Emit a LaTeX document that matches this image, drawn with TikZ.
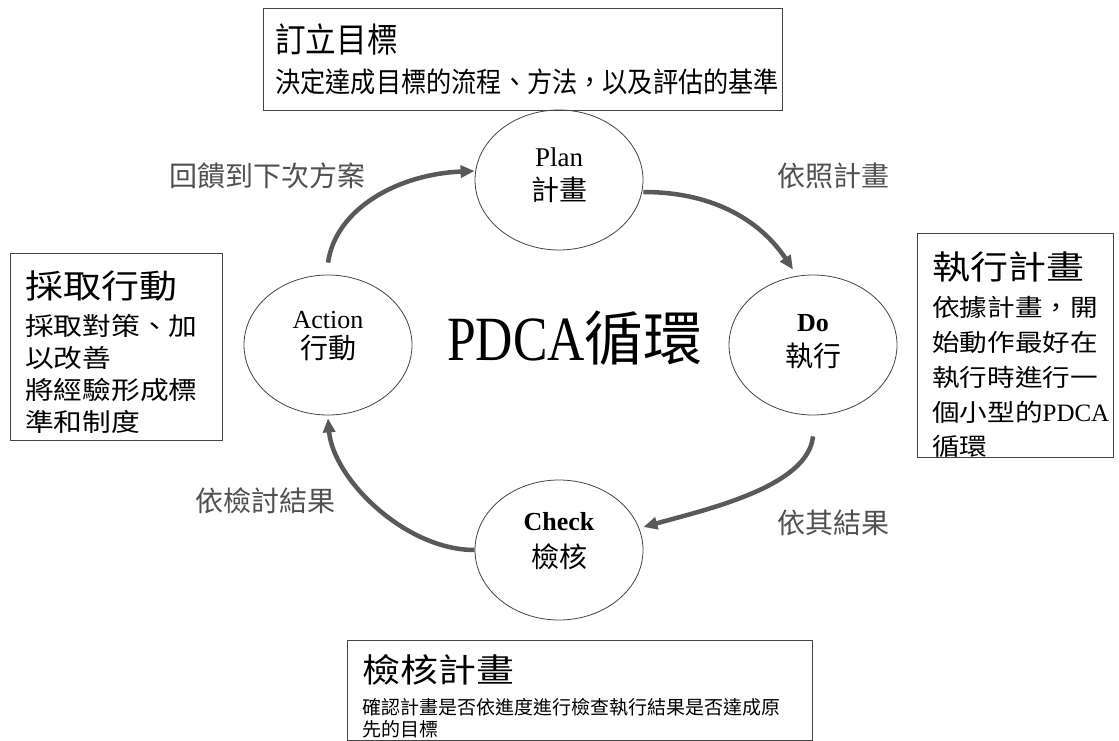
\documentclass[tikz,border=0pt]{standalone}
\usepackage{fontspec}
\usetikzlibrary{shapes.geometric,arrows.meta}
\setmainfont{Liberation Serif}
\newfontfamily\cjk{Noto Sans CJK TC}
\newfontfamily\cjkw[FakeStretch=1.15]{Noto Sans CJK TC}
\newfontfamily\cjkn[FakeStretch=0.9]{Noto Sans CJK TC}
\newfontfamily\serifn[FakeStretch=0.82]{Liberation Serif}
\definecolor{arrowgray}{HTML}{595959}
\definecolor{labelgray}{HTML}{505050}
\definecolor{linegray}{HTML}{444444}
\begin{document}
\begin{tikzpicture}[x=1pt,y=-1pt,
  circ/.style={draw=linegray, line width=0.8pt, ellipse, minimum width=168pt, minimum height=140pt, inner sep=0pt},
  boxr/.style={draw=linegray, line width=1.1pt, rectangle, anchor=north west, inner sep=0pt},
  flow/.style={draw=arrowgray, line width=4.5pt, -{Triangle[length=14pt,width=12pt]}},
  lbl/.style={text=labelgray, font=\cjk\fontsize{28}{30}\selectfont, inner sep=0pt},
  txt/.style={inner sep=0pt, anchor=base west},
  ctxt/.style={inner sep=0pt, anchor=base},
]
\useasboundingbox (0,0) rectangle (1119,741);
\fill[white] (0,0) rectangle (1119,741);

% boxes
\node[boxr, minimum width=519pt, minimum height=102pt] (topbox) at (263,8) {};
\node[boxr, minimum width=212pt, minimum height=187pt] (leftbox) at (10,253) {};
\node[boxr, minimum width=196pt, minimum height=224pt] (rightbox) at (917,233) {};
\node[boxr, minimum width=465pt, minimum height=100pt] (botbox) at (347,640) {};

% top box text
\node[txt, font=\cjkn\fontsize{34}{36}\selectfont] (t1) at (275,53) {訂立目標};
\node[txt, font=\cjkn\fontsize{28}{30}\selectfont] (t2) at (275,92.6) {決定達成目標的流程、方法，以及評估的基準};

% left box text
\node[txt, font=\cjkw\fontsize{33}{36}\selectfont] (l1) at (25,298.5) {採取行動};
\node[txt, font=\cjkw\fontsize{25}{28}\selectfont] (l2) at (25,335.5) {採取對策、加};
\node[txt, font=\cjkw\fontsize{25}{28}\selectfont] (l3) at (25,367.5) {以改善};
\node[txt, font=\cjkw\fontsize{25}{28}\selectfont] (l4) at (25,399.5) {將經驗形成標};
\node[txt, font=\cjkw\fontsize{25}{28}\selectfont] (l5) at (25,431.5) {準和制度};

% right box text
\node[txt, font=\cjkw\fontsize{33}{36}\selectfont] (r1) at (932,279.5) {執行計畫};
\node[txt, font=\cjkw\fontsize{24}{27}\selectfont] (r2) at (932,316) {依據計畫，開};
\node[txt, font=\cjkw\fontsize{24}{27}\selectfont] (r3) at (932,351) {始動作最好在};
\node[txt, font=\cjkw\fontsize{24}{27}\selectfont] (r4) at (932,386) {執行時進行一};
\node[txt, font=\cjkw\fontsize{24}{27}\selectfont] (r5) at (932,421) {個小型的{\rmfamily\fontsize{25}{28}\selectfont PDCA}};
\node[txt, font=\cjkw\fontsize{24}{27}\selectfont] (r6) at (932,455) {循環};

% bottom box text
\node[txt, font=\cjkw\fontsize{33}{36}\selectfont] (b1) at (362,682.5) {檢核計畫};
\node[txt, font=\cjk\fontsize{19}{22}\selectfont] (b2) at (362,714) {確認計畫是否依進度進行檢查執行結果是否達成原};
\node[txt, font=\cjk\fontsize{19}{22}\selectfont] (b3) at (362,736) {先的目標};

% circles
\node[circ] (Plan) at (559,180) {};
\node[circ] (Action) at (328,345) {};
\node[circ] (Do) at (813,345) {};
\node[circ] (Check) at (559,550) {};

\node[ctxt, font=\fontsize{27}{30}\selectfont] (pt1) at (559,167) {Plan};
\node[ctxt, font=\cjk\fontsize{28}{30}\selectfont] (pt2) at (559,200.6) {計畫};
\node[ctxt, font=\fontsize{26}{30}\selectfont] (at1) at (328,328) {Action};
\node[ctxt, font=\cjk\fontsize{28}{30}\selectfont] (at2) at (328,358.6) {行動};
\node[ctxt, font=\bfseries\fontsize{26}{30}\selectfont] (dt1) at (813,331) {Do};
\node[ctxt, font=\cjk\fontsize{28}{30}\selectfont] (dt2) at (813,366) {執行};
\node[ctxt, font=\bfseries\fontsize{26}{30}\selectfont] (ct1) at (559,530) {Check};
\node[ctxt, font=\cjk\fontsize{28}{30}\selectfont] (ct2) at (559,567.6) {檢核};

% center title
\node[ctxt] (title) at (575,360) {{\serifn\fontsize{63}{66}\selectfont PDCA}{\cjk\fontsize{59}{62}\selectfont 循環}};

% labels
\node[lbl] (la) at (267,176) {回饋到下次方案};
\node[lbl] (lb) at (833,176) {依照計畫};
\node[lbl] (lc) at (833,523) {依其結果};
\node[lbl] (ld) at (265,501) {依檢討結果};

% arrows
\draw[flow] ([yshift=12pt]Action.north) .. controls +(8,-55) and +(-75,3) .. ([yshift=9pt]Plan.west);
\draw[flow] ([yshift=-12pt]Plan.east) .. controls +(75,0) and +(-30,-45) .. ([xshift=-20pt,yshift=5pt]Do.north);
\draw[flow] ([yshift=-21pt]Do.south) .. controls +(-5,50) and +(65,-18) .. ([yshift=23pt]Check.east);
\draw[flow] (Check.west) .. controls +(-70,0) and +(5,60) .. ([yshift=-3pt]Action.south);
\end{tikzpicture}
\end{document}
